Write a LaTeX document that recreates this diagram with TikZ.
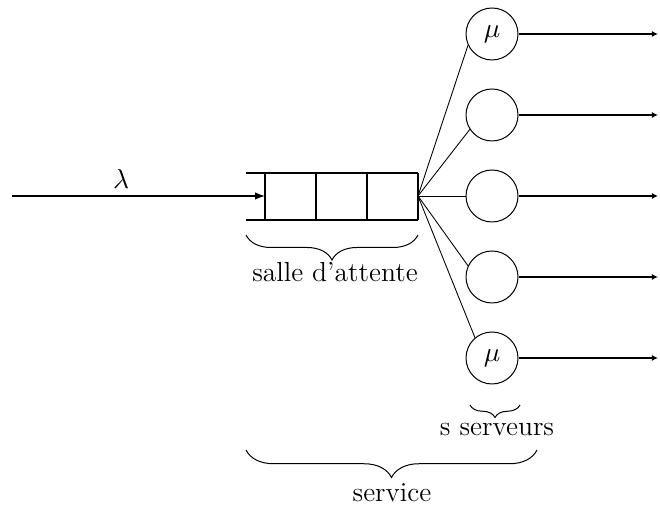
\documentclass[tikz,border=0pt]{standalone}
\usetikzlibrary{arrows.meta,decorations.pathreplacing}

\begin{document}
\begin{tikzpicture}[x=0.4pt,y=0.4pt,line width=0.5pt]
        \tikzstyle{every node}=[font=\fontsize{11}{13}\selectfont]
        \tikzstyle{serveur}=[draw,circle,line width=0.4pt,inner sep=0pt,minimum size=20.8pt]
        \tikzstyle{accolade}=[decorate,line width=0.4pt,decoration={brace,mirror,amplitude=10pt}]
        \tikzstyle{sortie}=[-{Latex[length=2.5pt,width=2.5pt]}]
        \tikzstyle{lien}=[line width=0.35pt]
        \useasboundingbox (0,0) rectangle (660,511);
        \coordinate (entree) at (12,315);
        \coordinate (fileG) at (265,315);
        \coordinate (fileD) at (418,315);
        \draw (246,338) -- (418,338);
        \draw (246,291) -- (418,291);
        \draw (265,291) -- (265,338);
        \draw (316,291) -- (316,338);
        \draw (367,291) -- (367,338);
        \draw (418,291) -- (418,338);
        \draw[-{Latex[length=4pt,width=3pt]}] (entree) -- (fileG);
        \node (lambda) at (121,332) {$\lambda$};
        \node[serveur] (s1) at (492,477) {$\mu$};
        \node[serveur] (s2) at (492,396) {};
        \node[serveur] (s3) at (492,315) {};
        \node[serveur] (s4) at (492,234) {};
        \node[serveur] (s5) at (492,153) {$\mu$};
        \coordinate (o1) at (658,477);
        \coordinate (o2) at (658,396);
        \coordinate (o3) at (658,315);
        \coordinate (o4) at (658,234);
        \coordinate (o5) at (658,153);
        \draw[lien] (fileD) -- (s1.205);
        \draw[lien] (fileD) -- (s2.213);
        \draw[lien] (fileD) -- (s3.west);
        \draw[lien] (fileD) -- (s4.155);
        \draw[lien] (fileD) -- (s5.130);
        \draw[sortie] (s1) -- (o1);
        \draw[sortie] (s2) -- (o2);
        \draw[sortie] (s3) -- (o3);
        \draw[sortie] (s4) -- (o4);
        \draw[sortie] (s5) -- (o5);
        \draw[accolade] (246,276) -- (418,276);
        \node (salle) at (335,239) {salle d'attente};
        \draw[accolade,decoration={amplitude=5pt}] (470,106) -- (520,106);
        \node (serveurs) at (497,81) {s serveurs};
        \draw[accolade,decoration={amplitude=11pt}] (246,61) -- (537,61);
        \node (service) at (392,18) {service};
\end{tikzpicture}
\end{document}
